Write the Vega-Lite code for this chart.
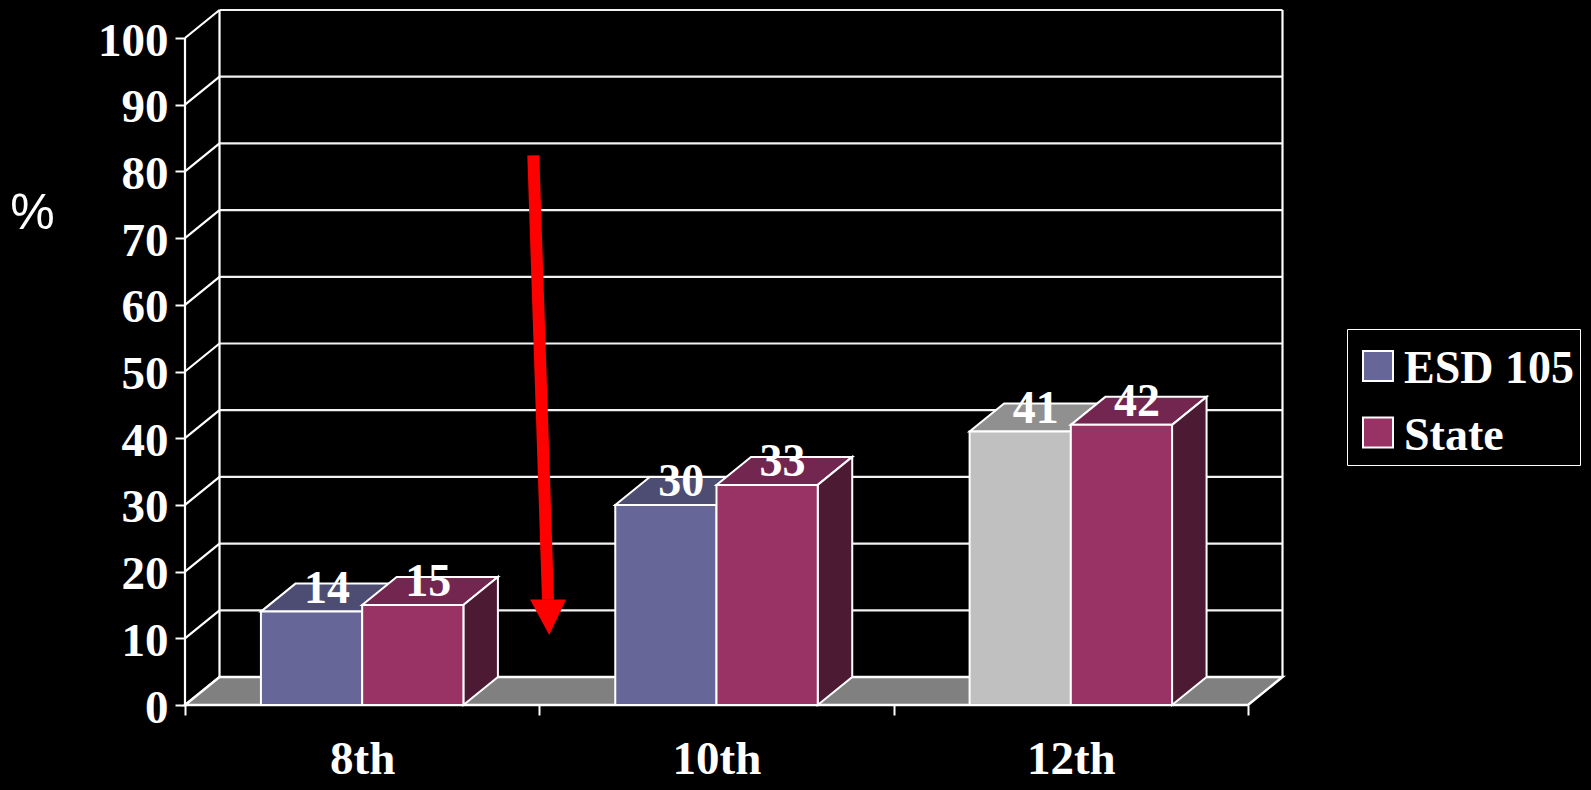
{
"$schema":"https://vega.github.io/schema/vega-lite/v6.json",
"background":"black",
"autosize":{"type":"none"},
"padding":{"left":185,"top":10,"right":308.5,"bottom":85},
"width":1097.5,
"height":695,
"params":[{"name":"d","value":0.0974},{"name":"e","value":4.2},{"name":"w","value":0.2857}],
"config":{"view":{"stroke":null}},
"datasets":{
"scores":[
{"grade":"8th","series":"ESD 105","value":14},
{"grade":"8th","series":"State","value":15},
{"grade":"10th","series":"ESD 105","value":30},
{"grade":"10th","series":"State","value":33},
{"grade":"12th","series":"ESD 105","value":41},
{"grade":"12th","series":"State","value":42}
],
"ticks":[{"tick":0},{"tick":10},{"tick":20},{"tick":30},{"tick":40},{"tick":50},{"tick":60},{"tick":70},{"tick":80},{"tick":90},{"tick":100}],
"shaft":[{"px":0.983,"py":82.4},{"px":1.0245,"py":15.8}],
"head":[{"px":0.9737,"py":15.8,"py2":15.8},{"px":1.028,"py":10.5,"py2":15.8},{"px":1.0753,"py":15.8,"py2":15.8}]
},
"encoding":{
"x":{"field":"px","type":"quantitative","title":null,"scale":{"domain":[0,3.0974],"nice":false,"zero":false},
"axis":{"values":[0,0.5,1,1.5,2,2.5,3],"domain":false,"grid":false,"tickColor":"white","tickSize":10,"tickWidth":2,
"tickOpacity":{"condition":{"test":"datum.value % 1 === 0","value":1},"value":0},
"labelExpr":"datum.value===0.5?'8th':datum.value===1.5?'10th':datum.value===2.5?'12th':''",
"labelFont":"Liberation Serif","labelFontWeight":"bold","labelFontSize":47,"labelColor":"white","labelPadding":21,"labelOverlap":false,"labelFlush":false}},
"y":{"field":"py","type":"quantitative","scale":{"domain":[0,104.2],"nice":false,"zero":false},"title":"%",
"axis":{"values":[0,10,20,30,40,50,60,70,80,90,100],"domain":false,"grid":false,"tickColor":"white","tickSize":10,"tickWidth":2,
"labelFont":"Liberation Serif","labelFontWeight":"bold","labelFontSize":47,"labelColor":"white","labelPadding":7,"labelOffset":3,"labelOverlap":false,"labelFlush":false,
"titleFont":"Liberation Sans","titleFontWeight":"normal","titleFontSize":50,"titleColor":"white","titleAngle":0,"titleX":-153,"titleY":218,"titleAlign":"center","titleBaseline":"alphabetic"}}
},
"layer":[
{"data":{"name":"ticks"},"transform":[{"calculate":"d","as":"px"},{"calculate":"3+d","as":"px2"},{"calculate":"datum.tick+e","as":"py"}],
"mark":{"type":"rule","color":"#f2f2f2","strokeWidth":2.2},"encoding":{"x2":{"field":"px2"}}},
{"data":{"name":"ticks"},"transform":[{"calculate":"0","as":"px"},{"calculate":"d","as":"px2"},{"calculate":"datum.tick","as":"py"},{"calculate":"datum.tick+e","as":"py2"}],
"mark":{"type":"rule","color":"white","strokeWidth":2.2},"encoding":{"x2":{"field":"px2"},"y2":{"field":"py2"}}},
{"data":{"name":"ticks"},"transform":[{"filter":"datum.tick===100"},{"calculate":"[0,d,3+d]","as":"xs"},{"flatten":["xs"],"as":["px"]},{"calculate":"datum.px===0?0:e","as":"py"},{"calculate":"datum.px===0?100:100+e","as":"py2"}],
"mark":{"type":"rule","color":"white","strokeWidth":2.2},"encoding":{"y2":{"field":"py2"}}},
{"data":{"name":"ticks"},"transform":[{"filter":"datum.tick===0"},{"calculate":"[0,d,3,3+d]","as":"xs"},{"calculate":"[0,0,0,e]","as":"a"},{"calculate":"[0,e,e,e]","as":"b"},{"flatten":["xs","a","b"],"as":["px","py","py2"]}],
"mark":{"type":"area","fill":"#808080","stroke":"white","strokeWidth":2.5,"opacity":1},"encoding":{"y2":{"field":"py2"}}},

{"data":{"name":"scores"},"transform":[{"filter":"datum.series==='ESD 105'"},{"calculate":"indexof(['8th','10th','12th'],datum.grade)+0.2143","as":"x0"},{"calculate":"datum.x0+w","as":"x1"},{"calculate":"[datum.x0,datum.x0+d,datum.x1,datum.x1+d]","as":"xs"},{"calculate":"[datum.value,datum.value,datum.value,datum.value+e]","as":"a"},{"calculate":"[datum.value,datum.value+e,datum.value+e,datum.value+e]","as":"b"},{"flatten":["xs","a","b"],"as":["px","py","py2"]}],
"mark":{"type":"area","stroke":"white","strokeWidth":2,"opacity":1},
"encoding":{"y2":{"field":"py2"},"detail":{"field":"grade"},"fill":{"condition":{"test":"datum.grade==='12th'","value":"#909090"},"value":"#4d4d73"}}},
{"data":{"name":"scores"},"transform":[{"filter":"datum.series==='ESD 105'"},{"calculate":"indexof(['8th','10th','12th'],datum.grade)+0.2143","as":"x0"},{"calculate":"datum.x0+w","as":"x1"},{"calculate":"datum.x0","as":"px"},{"calculate":"datum.x1","as":"px2"},{"calculate":"0","as":"py"},{"calculate":"datum.value","as":"py2"}],
"mark":{"type":"rect","stroke":"white","strokeWidth":2,"opacity":1},
"encoding":{"x2":{"field":"px2"},"y2":{"field":"py2"},
"fill":{"condition":{"test":"datum.grade==='12th'","value":"#c0c0c0"},"field":"series","type":"nominal",
"scale":{"domain":["ESD 105","State"],"range":["#666699","#993366"]},
"legend":{"orient":"none","legendX":1162,"legendY":319,"title":null,"strokeColor":"white","fillColor":"black","padding":6,"symbolType":"square","symbolSize":900,"symbolOffset":2,"symbolStrokeColor":"white","symbolStrokeWidth":2,"symbolOpacity":1,"labelFont":"Liberation Serif","labelFontWeight":"bold","labelFontSize":46,"labelColor":"white","labelOffset":3,"rowPadding":9.5,"labelLimit":400,
"encoding":{"labels":{"dy":{"value":11}},"symbols":{"y":{"value":31}}}}}}},

{"data":{"name":"scores"},"transform":[{"filter":"datum.series==='State'"},{"calculate":"indexof(['8th','10th','12th'],datum.grade)+0.5","as":"x0"},{"calculate":"datum.x0+w","as":"x1"},{"calculate":"[datum.x0,datum.x0+d,datum.x1,datum.x1+d]","as":"xs"},{"calculate":"[datum.value,datum.value,datum.value,datum.value+e]","as":"a"},{"calculate":"[datum.value,datum.value+e,datum.value+e,datum.value+e]","as":"b"},{"flatten":["xs","a","b"],"as":["px","py","py2"]}],
"mark":{"type":"area","fill":"#732650","stroke":"white","strokeWidth":2,"opacity":1},
"encoding":{"y2":{"field":"py2"},"detail":{"field":"grade"}}},
{"data":{"name":"scores"},"transform":[{"filter":"datum.series==='State'"},{"calculate":"indexof(['8th','10th','12th'],datum.grade)+0.5+w","as":"x1"},{"calculate":"[datum.x1,datum.x1+d]","as":"xs"},{"calculate":"[0,e]","as":"a"},{"calculate":"[datum.value,datum.value+e]","as":"b"},{"flatten":["xs","a","b"],"as":["px","py","py2"]}],
"mark":{"type":"area","fill":"#4d1a33","stroke":"white","strokeWidth":2,"opacity":1},
"encoding":{"y2":{"field":"py2"},"detail":{"field":"grade"}}},
{"data":{"name":"scores"},"transform":[{"filter":"datum.series==='State'"},{"calculate":"indexof(['8th','10th','12th'],datum.grade)+0.5","as":"px"},{"calculate":"datum.px+w","as":"px2"},{"calculate":"0","as":"py"},{"calculate":"datum.value","as":"py2"}],
"mark":{"type":"rect","stroke":"white","strokeWidth":2,"opacity":1},
"encoding":{"x2":{"field":"px2"},"y2":{"field":"py2"},
"fill":{"field":"series","type":"nominal","scale":{"domain":["ESD 105","State"],"range":["#666699","#993366"]}}}},

{"data":{"name":"scores"},"transform":[{"calculate":"indexof(['8th','10th','12th'],datum.grade)+(datum.series==='State'?0.5:0.2143)+w/2+d/2-0.005","as":"px"},{"calculate":"datum.value","as":"py"},{"calculate":"format(datum.value,'d')","as":"label"}],
"mark":{"type":"text","font":"Liberation Serif","fontWeight":"bold","fontSize":46,"color":"white","baseline":"alphabetic","align":"center","dy":-9},
"encoding":{"text":{"field":"label"}}},

{"data":{"name":"shaft"},"mark":{"type":"line","color":"#ff0000","strokeWidth":12,"strokeCap":"butt"}},
{"data":{"name":"head"},"mark":{"type":"area","fill":"#ff0000","opacity":1},"encoding":{"y2":{"field":"py2"}}}
]
}
